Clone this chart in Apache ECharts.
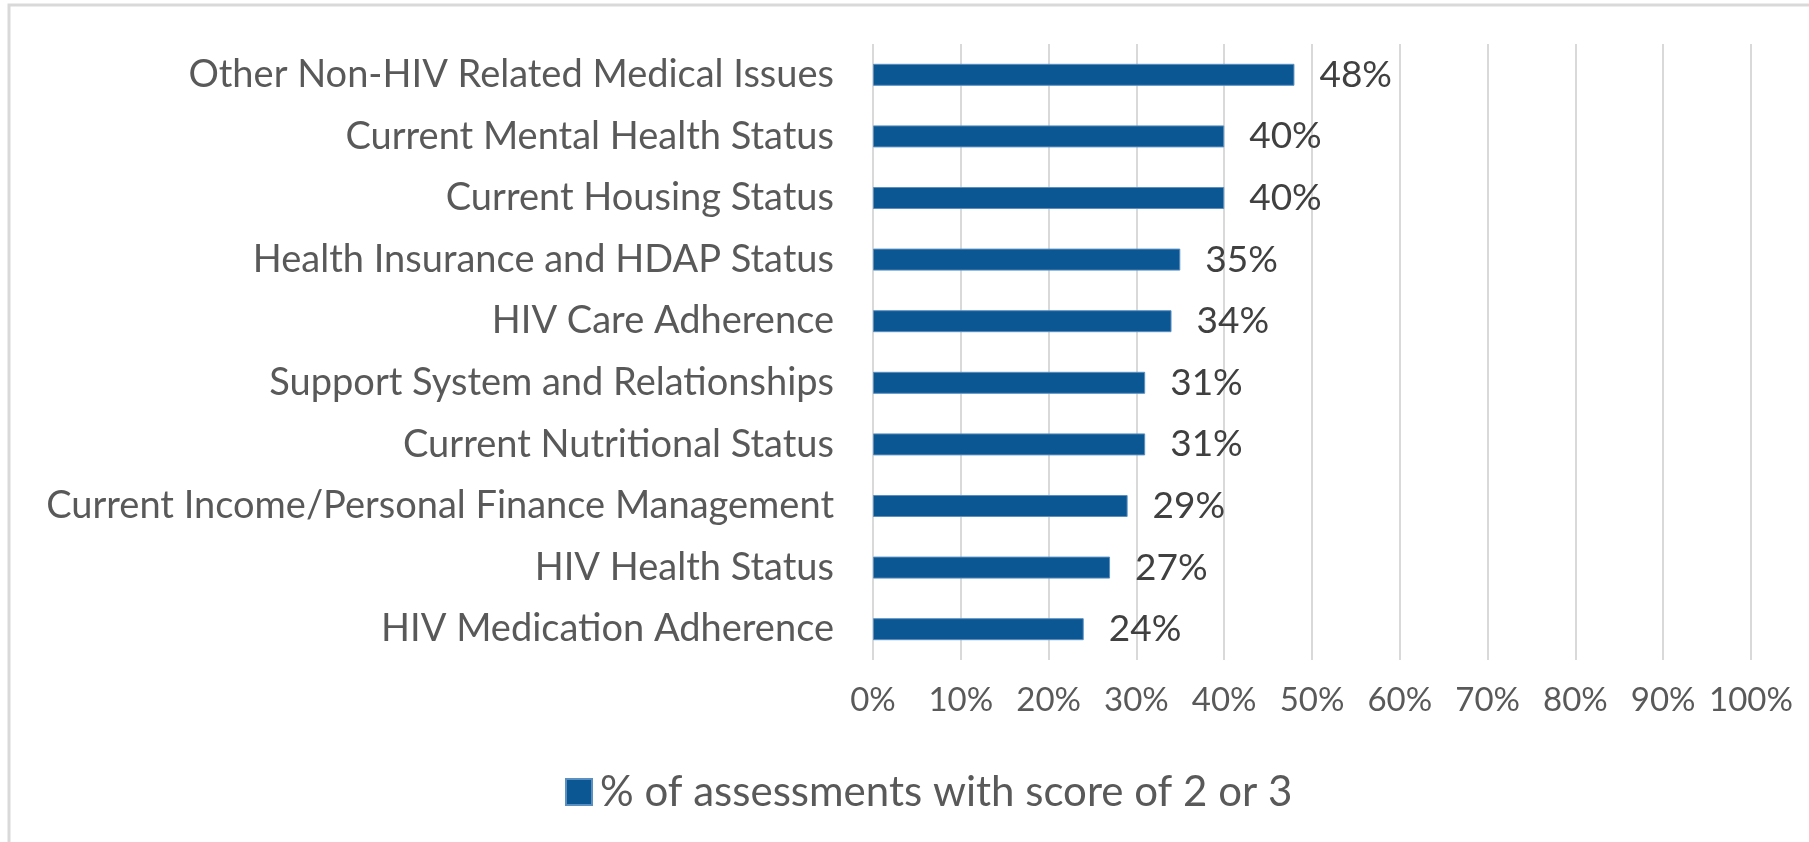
<!DOCTYPE html>
<html>
<head>
<meta charset="utf-8">
<script src="https://cdn.jsdelivr.net/npm/echarts@6/dist/echarts.min.js"></script>
<style>
    html, body { margin: 0; padding: 0; background: #fff; }
    #chart { width: 1809px; height: 842px; }
</style>
</head>
<body>
<div id="chart"></div>
<script>
    // 类目（自上而下）与对应百分比
    const categories = [
        'Other Non-HIV Related Medical Issues',
        'Current Mental Health Status',
        'Current Housing Status',
        'Health Insurance and HDAP Status',
        'HIV Care Adherence',
        'Support System and Relationships',
        'Current Nutritional Status',
        'Current Income/Personal Finance Management',
        'HIV Health Status',
        'HIV Medication Adherence'
    ];
    const values = [48, 40, 40, 35, 34, 31, 31, 29, 27, 24];
    const seriesName = '% of assessments with score of 2 or 3';

    const font = 'Lato';
    let chart = echarts.init(document.getElementById('chart'));
    let option = {
        animation: false,
        graphic: [
            {
                type: 'rect',
                shape: {x: 9, y: 5, width: 1900, height: 900},
                style: {fill: 'none', stroke: '#d9d9d9', lineWidth: 3},
                silent: true
            }
        ],
        legend: {
            data: [seriesName],
            left: 560,
            top: 766,
            itemWidth: 26,
            itemHeight: 26,
            itemGap: 8,
            icon: 'rect',
            textStyle: {
                fontFamily: font,
                fontSize: 42,
                color: '#595959',
                padding: [0, 0, 0, 3]
            }
        },
        grid: {
            left: 873,
            right: 58,
            top: 44,
            bottom: 182,
            containLabel: false
        },
        xAxis: {
            type: 'value',
            min: 0,
            max: 100,
            interval: 10,
            axisLine: {show: false},
            axisTick: {show: false},
            splitLine: {
                lineStyle: {color: '#d9d9d9', width: 2}
            },
            axisLabel: {
                formatter: '{value}%',
                margin: 24,
                fontFamily: font,
                fontSize: 33,
                color: '#595959'
            }
        },
        yAxis: {
            type: 'category',
            data: categories,
            inverse: true,
            axisLine: {show: false},
            axisTick: {show: false},
            axisLabel: {
                margin: 39,
                fontFamily: font,
                fontSize: 38,
                color: '#595959'
            }
        },
        series: [
            {
                name: seriesName,
                type: 'bar',
                data: values,
                barWidth: 22,
                itemStyle: {
                    color: '#0b5794',
                    borderColor: '#5b8fc0',
                    borderWidth: 1
                },
                label: {
                    show: true,
                    position: 'right',
                    distance: 25,
                    formatter: '{c}%',
                    fontFamily: font,
                    fontSize: 37,
                    color: '#404040'
                }
            }
        ]
    };
    chart.setOption(option);
</script>
</body>
</html>
